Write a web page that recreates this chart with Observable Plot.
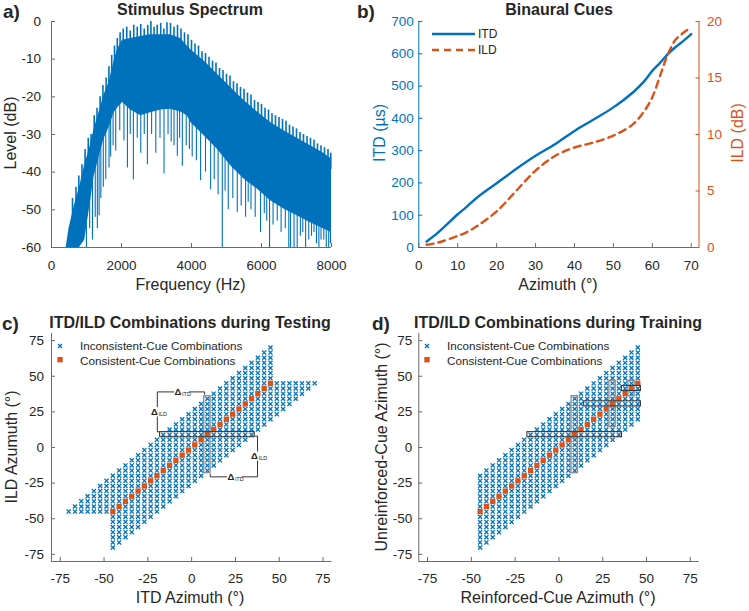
<!DOCTYPE html>
<html><head><meta charset="utf-8">
<script src="https://cdn.jsdelivr.net/npm/d3@7"></script>
<script src="https://cdn.jsdelivr.net/npm/@observablehq/plot@0.6"></script>
<style>
body{margin:0;background:#fff;}
#root{position:relative;width:749px;height:611px;overflow:hidden;font-family:"Liberation Sans",Arial,Helvetica,sans-serif;color:#262626;background:#fff;}
.abs{position:absolute;white-space:nowrap;}
.title{font-weight:bold;font-size:16px;transform:translate(-50%,-50%);}
.plabel{font-weight:bold;font-size:19px;}
.axt{font-size:16px;transform:translate(-50%,-50%);}
.rot{transform:translate(-50%,-50%) rotate(-90deg);}
.leg{font-size:11.7px;line-height:14px;}
</style></head><body><div id="root"></div>
<script>
// ---------- Panel a: stimulus spectrum ----------
const freqHz     = [420, 500, 650, 800, 950, 1080, 1220, 1360, 1500, 1650, 1790, 1880, 2030, 2260, 2550, 2830, 3120, 3400, 3690, 3880, 3980, 4360, 4740, 5120, 5500, 5880, 6260, 6640, 7020, 7400, 7780, 8000];
const levelUpper = [-60, -55, -49, -44, -38, -34, -28.5, -24, -19.5, -16, -10.5, -7.5, -5, -4.5, -4, -3.5, -3.5, -3.5, -4.5, -6.5, -7.5, -10.5, -14, -17.5, -21, -24, -26.8, -29, -31, -33, -35, -36.5];
const levelLower = [-60, -60, -60, -60, -58, -50, -41, -36, -31.2, -28, -24.2, -23, -21.5, -23.5, -25, -24.2, -23.5, -23.3, -24, -25, -26.8, -30.3, -33.9, -38.3, -41.8, -44.5, -47.6, -49.8, -51.6, -53.4, -55.1, -56];
const peakFreq   = [600, 700, 780, 870, 960, 1050, 1130, 1220, 1300, 1390, 1470, 1560, 1640, 1720, 1800, 1880, 1960, 2050, 2150, 2250, 2350, 2450, 2550, 2650, 2750, 2840, 2930, 3020, 3120, 3210, 3300, 3400, 3500, 3600, 3700, 3800, 3900, 4000, 4100, 4200, 4300, 4400, 4500, 4600, 4700, 4800, 4900, 5000, 5100, 5200, 5300, 5400, 5500, 5600, 5700, 5800, 5900, 6000, 6100, 6200, 6300, 6400, 6500, 6600, 6700, 6800, 6900, 7000, 7100, 7200, 7300, 7400, 7500, 7600, 7700, 7800, 7900, 7980];
const peakLevel  = [-47, -44, -41, -38, -34, -31, -30, -25, -23, -20, -17, -15, -12, -9, -6.5, -4.5, -3, -2, -1.5, -2.5, -1, -1.5, -0.8, -2, -1, 0, -1.5, -1, -0.5, -2, -0.3, -0.5, -1.5, -1, -2, -3, -3.5, -5, -6, -6.5, -8, -8.5, -9.5, -10.5, -11, -12.5, -13, -14, -14.5, -16, -16.5, -17.5, -18, -19, -19.5, -21, -21.5, -22, -23, -23.5, -24.5, -25, -25.5, -26, -26.5, -27.5, -28, -28.5, -29.5, -30, -30.5, -31, -31.5, -32.5, -33, -33.5, -34, -35];
const dipFreq    = [998, 1090, 1170, 1250, 1310, 1360, 1410, 1480, 1550, 1645, 1690, 1760, 1835, 1950, 2070, 2169, 2250, 2340, 2450, 2550, 2650, 2740, 2860, 2980, 3100, 3215, 3330, 3420, 3500, 3595, 3660, 3738, 3850, 3940, 4020, 4140, 4260, 4400, 4547, 4650, 4760, 4880, 4960, 5050, 5180, 5308, 5420, 5545, 5620, 5700, 5820, 5973, 6080, 6150, 6230, 6330, 6450, 6560, 6680, 6780, 6830, 6930, 7020, 7110, 7180, 7260, 7350, 7430, 7500, 7570, 7640, 7700, 7780, 7850, 7920, 7970];
const dipLevel   = [-60, -55, -58, -52, -55, -51.6, -47, -44, -42, -38.9, -36, -33, -34.4, -29, -31.7, -38.9, -30, -42, -31, -35, -30, -38, -30, -35, -31, -40.5, -30, -32, -33, -35.8, -31, -38.4, -33, -34, -36, -37, -42.3, -40, -44.7, -42, -46, -60, -45, -50, -47, -50.7, -49, -52, -48, -50, -52, -56, -51, -53, -60, -54, -53, -56, -55, -60, -60, -60, -60, -57, -56, -60, -58, -57, -56, -59, -60, -58, -58, -60, -60, -59];
const freqTicks  = [0, 2000, 4000, 6000, 8000];
const levelTicks = [-60, -50, -40, -30, -20, -10, 0];

// ---------- Panel b: binaural cues ----------
const azimuthDeg = [2, 5, 10, 12, 15, 20, 25, 30, 35, 40, 45, 50, 55, 58, 60, 62, 64, 66, 68, 70];
const itdUs      = [18.6, 47, 103, 123, 155, 199, 243, 284, 320, 361, 397, 434, 480, 516, 547, 572, 599, 621, 640, 661];
const ildDb      = [0.24, 0.44, 1.03, 1.3, 1.9, 3.2, 5.0, 6.8, 8.1, 8.85, 9.3, 9.9, 10.9, 12.1, 13.3, 15.2, 17.1, 18.4, 19.0, 19.5];
const azTicks    = [0, 10, 20, 30, 40, 50, 60, 70];
const itdTicks   = [0, 100, 200, 300, 400, 500, 600, 700];
const ildTicks   = [0, 5, 10, 15, 20];

// ---------- Panels c/d: cue combinations ----------
const consistentAz = [-45, -41.4, -37.8, -34.2, -30.6, -27, -23.4, -19.8, -16.2, -12.6, -9, -5.4, -1.8, 1.8, 5.4, 9, 12.6, 16.2, 19.8, 23.4, 27, 30.6, 34.2, 37.8, 41.4, 45];
const cueOffsets   = [-25.2, -21.6, -18, -14.4, -10.8, -7.2, -3.6, 3.6, 7.2, 10.8, 14.4, 18, 21.6, 25.2];
const comboTicks   = [-75, -50, -25, 0, 25, 50, 75];
// highlighted ranges (centre azimuth, half extent), degrees
const testBoxCenter  = [9];
const testBoxHalf    = [27];
const trainBoxCenter = [9, 30.6, 41.4];
const trainBoxHalf   = [27, 16.2, 5.4];
const boxHalfWidth = 1.8;
// Δ bracket segments in panel c (degrees): x1,y1,x2,y2
const bracketX1 = [-19.6, 7.4, -19.6, -19.6, 37.6, 37.6, 37.6, 10.6];
const bracketY1 = [39, 39, 39, 11, 8, 8, -20.6, -20.6];
const bracketX2 = [7.4, 7.4, -19.6, -18.2, 37.6, 36.2, 10.6, 10.6];
const bracketY2 = [39, 37, 11, 11, -20.6, 8, -20.6, -18.5];
const deltaLabelX   = [-6.1, -19.6, 37.6, 24.1];
const deltaLabelY   = [39, 25, -6, -20.6];
const deltaLabelSub = ["ITD", "ILD", "ILD", "ITD"];

// ---------- helpers ----------
const root = document.getElementById("root");
const BLUE = "#0072BD", ORANGE = "#D95319", AX = "#6a6a6a";
const FONT = '"Liberation Sans", Arial, Helvetica, sans-serif';
const baseStyle = {fontFamily: FONT, fontSize: "13.5px", color: "#262626", background: "transparent", overflow: "visible"};
const fmt = d => String(d);
function put(el, left, top) { el.style.position = "absolute"; el.style.left = left + "px"; el.style.top = top + "px"; root.appendChild(el); return el; }
function html(cls, text, left, top, extra) {
  const d = document.createElement("div"); d.className = "abs " + cls; d.textContent = text;
  if (extra) Object.assign(d.style, extra);
  return put(d, left, top);
}
function interpAt(xs, ys, x) {
  for (let i = 1; i < xs.length; i++) if (x <= xs[i]) { const t = (x - xs[i-1]) / (xs[i] - xs[i-1]); return ys[i-1] + t * (ys[i] - ys[i-1]); }
  return ys[ys.length - 1];
}

// ---------- Panel a ----------
const spectrum = freqHz.map((f, i) => ({f, lo: levelLower[i], hi: levelUpper[i]}));
const dips = dipFreq.map((f, i) => ({f, bottom: dipLevel[i], top: interpAt(freqHz, levelLower, f) + 3}));
const peaks = peakFreq.map((f, i) => ({f, top: peakLevel[i], bottom: interpAt(freqHz, levelUpper, f) - 3}));
put(Plot.plot({
  width: 375, height: 300, marginLeft: 51, marginRight: 44, marginTop: 21, marginBottom: 53,
  style: baseStyle,
  x: {domain: [0, 8000]}, y: {domain: [-60, 0]},
  marks: [
    Plot.areaY(spectrum, {x: "f", y1: "lo", y2: "hi", fill: BLUE, curve: "linear"}),
    Plot.ruleX(dips, {x: "f", y1: "bottom", y2: "top", stroke: BLUE, strokeWidth: 1.1}),
    Plot.ruleX(peaks, {x: "f", y1: "bottom", y2: "top", stroke: BLUE, strokeWidth: 1.6}),
    Plot.ruleX([0], {stroke: AX}),
    Plot.ruleY([-60], {stroke: AX}),
    Plot.axisX({ticks: freqTicks, tickFormat: fmt, tickSize: -4, tickPadding: 17, label: null, stroke: AX}),
    Plot.axisY({ticks: levelTicks, tickFormat: fmt, tickSize: -4, tickPadding: 14.5, label: null, stroke: AX})
  ]
}), 0, 0);

// ---------- Panel b ----------
const cues = azimuthDeg.map((a, i) => ({a, itd: itdUs[i], ild: ildDb[i]}));
const bOpts = {width: 374, height: 300, marginLeft: 43.3, marginRight: 50.5, marginTop: 21, marginBottom: 53};
put(Plot.plot({
  ...bOpts, style: baseStyle, x: {domain: [0, 72]}, y: {domain: [0, 700]},
  marks: [
    Plot.line(cues, {x: "a", y: "itd", stroke: BLUE, strokeWidth: 2.4, curve: "catmull-rom"}),
    Plot.ruleX([0], {stroke: BLUE}),
    Plot.ruleY([0], {stroke: AX}),
    Plot.axisX({ticks: azTicks, tickFormat: fmt, tickSize: -4, tickPadding: 17, label: null, stroke: AX}),
    Plot.axisY({ticks: itdTicks, tickFormat: fmt, tickSize: -4, tickPadding: 9, label: null, stroke: BLUE, fill: BLUE})
  ]
}), 375, 0);
put(Plot.plot({
  ...bOpts, style: baseStyle, x: {domain: [0, 72], axis: null}, y: {domain: [0, 20], axis: null},
  marks: [
    Plot.line(cues, {x: "a", y: "ild", stroke: ORANGE, strokeWidth: 2.4, strokeDasharray: "7,5", curve: "catmull-rom"}),
    Plot.ruleX([72], {stroke: ORANGE}),
    Plot.axisY({anchor: "right", ticks: ildTicks, tickFormat: fmt, tickSize: -4, tickPadding: 12, label: null, stroke: ORANGE, fill: ORANGE})
  ]
}), 375, 0);
// legend b
{
  const d = document.createElement("div"); d.className = "abs leg";
  d.innerHTML = '<svg width="46" height="32" style="position:absolute;left:0;top:0">' +
    '<line x1="1" y1="8" x2="44" y2="8" stroke="' + BLUE + '" stroke-width="2.4"/>' +
    '<line x1="1" y1="24" x2="44" y2="24" stroke="' + ORANGE + '" stroke-width="2.4" stroke-dasharray="7,5"/></svg>' +
    '<div style="position:absolute;left:47px;top:1px;font-size:12px">ITD</div>' +
    '<div style="position:absolute;left:47px;top:17px;font-size:12px">ILD</div>';
  put(d, 431, 26);
}

// ---------- Panels c / d ----------
function key(x, y) { return x.toFixed(1) + "," + y.toFixed(1); }
const consistent = consistentAz.map(a => ({x: a, y: a}));
const testSet = new Map(), trainSet = new Map();
for (const a of consistentAz) for (const d of cueOffsets) {
  const y = Math.round((a + d) * 10) / 10;
  testSet.set(key(a, y), {x: a, y});
  testSet.set(key(y, a), {x: y, y: a});
  trainSet.set(key(a, y), {x: a, y});
}
const testCombos = [...testSet.values()], trainCombos = [...trainSet.values()];
function boxes(centers, halves) {
  const v = [], h = [];
  centers.forEach((c, i) => {
    v.push({x1: c - boxHalfWidth, x2: c + boxHalfWidth, y1: c - halves[i], y2: c + halves[i]});
    h.push({x1: c - halves[i], x2: c + halves[i], y1: c - boxHalfWidth, y2: c + boxHalfWidth});
  });
  return {v, h};
}
function comboPlot(combos, bx, extra, mLeft, mRight, padY) {
  return Plot.plot({
    width: mLeft + 280.3 + mRight, height: 311, marginLeft: mLeft, marginRight: mRight, marginTop: 33, marginBottom: 50,
    style: baseStyle, x: {domain: [-80, 80]}, y: {domain: [-80, 80]},
    marks: [
      Plot.dot(combos, {x: "x", y: "y", symbol: "times", r: 2, stroke: BLUE, strokeWidth: 1.3}),
      Plot.dot(consistent, {x: "x", y: "y", symbol: "square", r: 3, fill: ORANGE}),
      Plot.rect(bx.v, {x1: "x1", x2: "x2", y1: "y1", y2: "y2", fill: "none", stroke: "#8a8a8a", strokeWidth: 1.3}),
      Plot.rect(bx.h, {x1: "x1", x2: "x2", y1: "y1", y2: "y2", fill: "none", stroke: "#3a3a3a", strokeWidth: 1.1}),
      ...extra,
      Plot.ruleX([-80], {stroke: AX}),
      Plot.ruleY([-80], {stroke: AX}),
      Plot.axisX({ticks: comboTicks, tickFormat: fmt, tickSize: -4, tickPadding: 16, label: null, stroke: AX}),
      Plot.axisY({ticks: comboTicks, tickFormat: fmt, tickSize: -4, tickPadding: padY, label: null, stroke: AX})
    ]
  });
}
const brackets = bracketX1.map((x1, i) => ({x1, y1: bracketY1[i], x2: bracketX2[i], y2: bracketY2[i]}));
const deltaLabels = deltaLabelX.map((x, i) => ({x, y: deltaLabelY[i], sub: deltaLabelSub[i]}));
const cExtra = [
  Plot.link(brackets, {x1: "x1", y1: "y1", x2: "x2", y2: "y2", stroke: "#333", strokeWidth: 1}),
  Plot.dot(deltaLabels, {x: "x", y: "y", symbol: "square", r: 5, fill: "white", dx: -2.5}),
  Plot.dot(deltaLabels, {x: "x", y: "y", symbol: "square", r: 5, fill: "white", dx: 3.5}),
  Plot.text(deltaLabels, {x: "x", y: "y", text: () => "Δ", fontSize: 9.5, fontWeight: "bold", fill: "#222", dx: -3}),
  Plot.text(deltaLabels, {x: "x", y: "y", text: "sub", fontSize: 5.5, fill: "#222", dx: 5.5, dy: 2})
];
put(comboPlot(testCombos, boxes(testBoxCenter, testBoxHalf), cExtra, 51, 44, 11.5), 0, 300);
put(comboPlot(trainCombos, boxes(trainBoxCenter, trainBoxHalf), [], 43.3, 50.4, 10.5), 375, 300);

// legends c/d
function comboLegend(left, top) {
  const d = document.createElement("div"); d.className = "abs leg";
  d.innerHTML = '<svg width="12" height="32" style="position:absolute;left:0;top:0">' +
    '<path d="M4,6L8,10M8,6L4,10" stroke="' + BLUE + '" stroke-width="1.3"/>' +
    '<rect x="3.3" y="19" width="5.4" height="5.4" fill="' + ORANGE + '"/></svg>' +
    '<div style="position:absolute;left:26px;top:1px">Inconsistent-Cue Combinations</div>' +
    '<div style="position:absolute;left:26px;top:16px">Consistent-Cue Combinations</div>';
  put(d, left, top);
}
comboLegend(54, 338);
comboLegend(421, 338);

// ---------- titles, panel labels, axis titles ----------
html("title", "Stimulus Spectrum", 190, 10);
html("title", "Binaural Cues", 559, 10);
html("title", "ITD/ILD Combinations during Testing", 190, 323);
html("title", "ITD/ILD Combinations during Training", 558, 323);
html("plabel", "a)", 3, 1);
html("plabel", "b)", 357, 1);
html("plabel", "c)", 2, 313);
html("plabel", "d)", 372, 313);
html("axt", "Frequency (Hz)", 190.5, 285);
html("axt rot", "Level (dB)", 11, 133);
html("axt", "Azimuth (°)", 558, 285);
html("axt rot", "ITD (µs)", 380, 133, {color: BLUE});
html("axt rot", "ILD (dB)", 738, 133, {color: ORANGE});
html("axt", "ITD Azimuth (°)", 190, 598);
html("axt rot", "ILD Azumuth (°)", 12, 447);
html("axt", "Reinforced-Cue Azimuth (°)", 558, 598);
html("axt rot", "Unreinforced-Cue Azimuth (°)", 382, 447);
</script></body></html>
